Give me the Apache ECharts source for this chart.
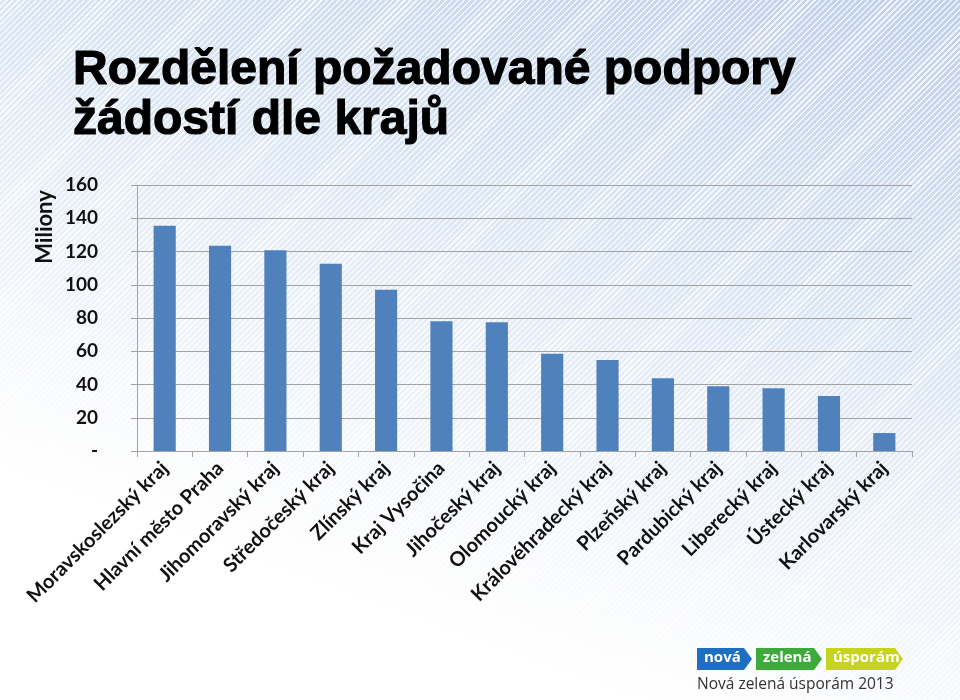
<!DOCTYPE html>
<html>
<head>
<meta charset="utf-8">
<script src="https://cdn.jsdelivr.net/npm/echarts@6/dist/echarts.min.js"></script>
<style>
html,body{margin:0;padding:0;}
#bg{position:absolute;left:0;top:0;width:960px;height:700px;
background:
 repeating-linear-gradient(135deg, rgba(255,255,255,0.75) 0px, rgba(255,255,255,0.75) 1.6px, rgba(255,255,255,0) 1.6px, rgba(255,255,255,0) 4.2px),
 linear-gradient(200deg, #bfd0ea 0%, #d6e2f2 30%, #edf2f9 55%, #ffffff 78%);}
#chart{position:absolute;left:0;top:0;width:960px;height:700px;}
</style>
</head>
<body>
<div id="bg"></div>
<div id="chart"></div>
<script>
const categories = ["Moravskoslezský kraj","Hlavní město Praha","Jihomoravský kraj","Středočeský kraj","Zlínský kraj","Kraj Vysočina","Jihočeský kraj","Olomoucký kraj","Královéhradecký kraj","Plzeňský kraj","Pardubický kraj","Liberecký kraj","Ústecký kraj","Karlovarský kraj"];
const values = [135.5, 123.5, 120.7, 112.7, 97.0, 78.0, 77.4, 58.5, 54.7, 43.7, 38.9, 37.7, 33.1, 10.8];
const yTicks = [0, 20, 40, 60, 80, 100, 120, 140, 160];
const titleText = "Rozdělení požadované podpory\nžádostí dle krajů";
const yAxisTitle = "Miliony";
const logoWords = ["nová", "zelená", "úsporám"];
const logoCaption = "Nová zelená úsporám 2013";

const chart = echarts.init(document.getElementById('chart'), null, {renderer:'canvas'});
const grey = '#a3a3a3';
const fontLbl = 'Lato, "Open Sans", sans-serif';

function arrow(x, w, color, label){
  const y = 648, h = 22, tip = 8;
  return [
    {type:'polygon', shape:{points:[[x,y],[x+w-tip,y],[x+w,y+h/2],[x+w-tip,y+h],[x,y+h]]}, style:{fill:color}},
    {type:'text', left: x+7, top: y+2, style:{text:label, fill:'#fff', font:'bold 15px "Open Sans", sans-serif'}}
  ];
}

chart.setOption({
  backgroundColor: 'transparent',
  animation: false,
  title: {
    text: titleText, left: 68, top: 41, padding: 5,
    textStyle: {fontFamily: '"Liberation Sans", Arial, sans-serif', fontWeight: 'bold', fontSize: 48, lineHeight: 50, color: '#000', textBorderColor:'#000', textBorderWidth:1.2}
  },
  grid: {left: 137, right: 48, top: 185, bottom: 249, containLabel: false},
  xAxis: {
    type: 'category', data: categories,
    axisLine: {lineStyle: {color: grey, width: 1}},
    axisTick: {show: true, alignWithLabel: false, length: 6, lineStyle: {color: grey}},
    axisLabel: {interval: 0, rotate: 45, margin: 14, color: '#111', fontFamily: fontLbl, fontWeight: 'bold', fontSize: 20}
  },
  yAxis: {
    type: 'value', min: 0, max: 160, interval: 20,
    axisLine: {show: true, lineStyle: {color: grey}},
    axisTick: {show: true, length: 6, lineStyle: {color: grey}},
    splitLine: {show: true, lineStyle: {color: grey, width: 1}},
    axisLabel: {margin: 39, color: '#111', fontFamily: fontLbl, fontWeight: 'bold', fontSize: 19,
      formatter: v => (yTicks.indexOf(v) >= 0 ? (v === 0 ? '-' : String(v)) : '')}
  },
  series: [{
    type: 'bar', data: values, barWidth: '40%',
    itemStyle: {color: '#4f81bd'}
  }],
  graphic: [
    {type:'text', x: 45, y: 227, rotation: Math.PI/2,
      style:{text: yAxisTitle, fill:'#111', font:'bold 22px Lato, "Open Sans", sans-serif', align:'center', verticalAlign:'middle'}},
    ...arrow(697, 55, '#1f6fc0', logoWords[0]),
    ...arrow(756, 66, '#3faa3c', logoWords[1]),
    ...arrow(826, 77, '#c6d41f', logoWords[2]),
    {type:'text', left: 697, top: 677, style:{text: logoCaption, fill:'#333', font:'15.5px "Open Sans", sans-serif'}}
  ]
});
</script>
</body>
</html>
